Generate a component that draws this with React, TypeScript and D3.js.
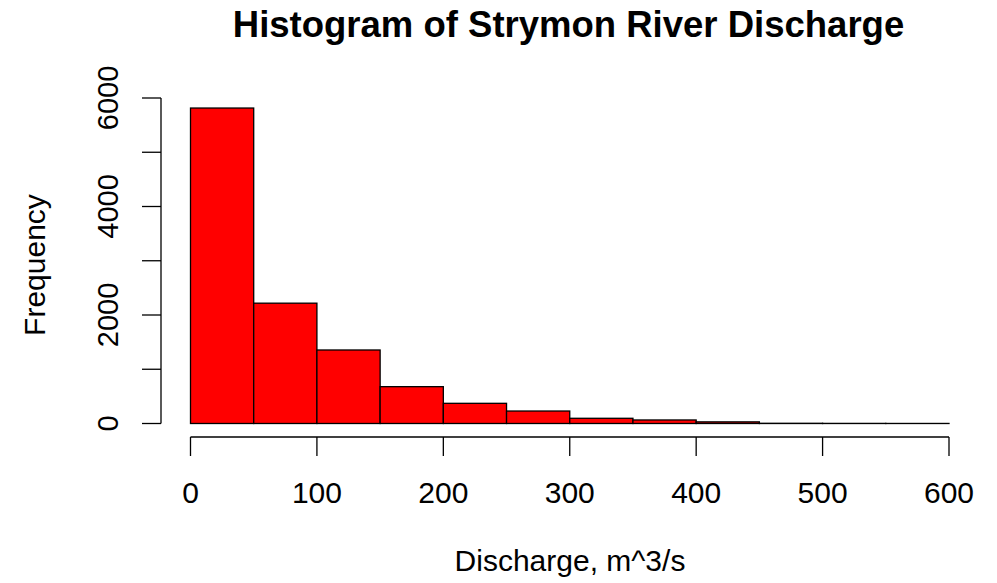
import React from "react";
import * as d3 from "d3";

const binStarts = [0, 50, 100, 150, 200, 250, 300, 350, 400, 450, 500, 550];
const binWidth = 50;
const counts = [5815, 2218, 1355, 679, 372, 230, 96, 65, 30, 4, 2, 1];
const xTicks = [0, 100, 200, 300, 400, 500, 600];
const yTicks = [0, 1000, 2000, 3000, 4000, 5000, 6000];
const yLabeled = [0, 2000, 4000, 6000];
const title = "Histogram of Strymon River Discharge";
const xLabel = "Discharge, m^3/s";
const yLabel = "Frequency";

export default function App() {
  const W = 997, H = 583;
  const x = d3.scaleLinear().domain([0, 600]).range([190.5, 949]);
  const y = d3.scaleLinear().domain([0, 6000]).range([423.5, 98]);
  const font = "'Liberation Sans', Arial, sans-serif";
  const axisY = 437;
  const axisX = 161;
  const tick = 19;
  return (
    <svg width={W} height={H} style={{ position: "fixed", left: 0, top: 0, background: "#fff" }} fontFamily={font}>
      <rect x={0} y={0} width={W} height={H} fill="#fff" />
      {binStarts.map((b, i) => (
        <rect key={i} x={x(b)} y={y(counts[i])} width={x(b + binWidth) - x(b)} height={y(0) - y(counts[i])}
          fill="#ff0000" stroke="#000" strokeWidth={1.3} />
      ))}
      {/* x axis */}
      <line x1={x(0)} x2={x(600)} y1={axisY} y2={axisY} stroke="#000" strokeWidth={1.3} />
      {xTicks.map(t => (
        <g key={t}>
          <line x1={x(t)} x2={x(t)} y1={axisY} y2={axisY + tick} stroke="#000" strokeWidth={1.3} />
          <text x={x(t)} y={503} fontSize={30} textAnchor="middle" fill="#000">{t}</text>
        </g>
      ))}
      {/* y axis */}
      <line x1={axisX} x2={axisX} y1={y(0)} y2={y(6000)} stroke="#000" strokeWidth={1.3} />
      {yTicks.map(t => (
        <line key={t} x1={axisX} x2={axisX - tick} y1={y(t)} y2={y(t)} stroke="#000" strokeWidth={1.3} />
      ))}
      {yLabeled.map(t => (
        <text key={t} transform={`translate(118,${y(t)}) rotate(-90)`} fontSize={29} textAnchor="middle" fill="#000">{t}</text>
      ))}
      <text x={568.5} y={37} fontSize={36.5} fontWeight="bold" textAnchor="middle" fill="#000">{title}</text>
      <text x={570} y={571} fontSize={30} textAnchor="middle" fill="#000">{xLabel}</text>
      <text transform={`translate(45,265) rotate(-90)`} fontSize={30} textAnchor="middle" fill="#000">{yLabel}</text>
    </svg>
  );
}
